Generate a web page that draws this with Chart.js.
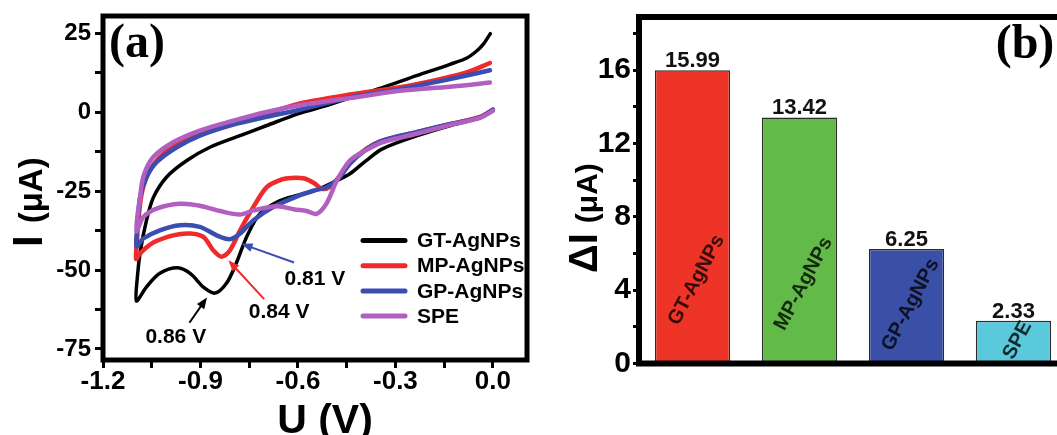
<!DOCTYPE html>
<html>
<head>
<meta charset="utf-8">
<script src="https://cdn.jsdelivr.net/npm/chart.js@4.4.1/dist/chart.umd.min.js"></script>
<style>
  html, body { margin: 0; padding: 0; overflow: hidden; background: #fff; }
  body { width: 1057px; height: 435px; position: relative; }
  canvas { position: absolute; top: 0; }
  #cvChart { left: 0; }
  #barChart { left: 530px; }
</style>
</head>
<body>
<canvas id="cvChart" width="540" height="450"></canvas>
<canvas id="barChart" width="545" height="435"></canvas>
<script>
const seriesNames = ["GT-AgNPs", "MP-AgNPs", "GP-AgNPs", "SPE"];

// each CV loop: sweep from 0 V down to -1.1 V, then back up to 0 V
const gtPotential = [0.0, -0.04, -0.13, -0.235, -0.34, -0.39, -0.44, -0.49, -0.54, -0.6, -0.655, -0.717, -0.758, -0.79, -0.82, -0.855, -0.89, -0.93, -0.97, -1.025, -1.066, -1.097,
  -1.094, -1.085, -1.066, -1.045, -1.004, -0.942, -0.871, -0.778, -0.696, -0.6, -0.5, -0.41, -0.338, -0.235, -0.132, -0.08, -0.05, -0.03, -0.008];
const gtCurrent = [0.5, -1.8, -4.2, -7.5, -11.6, -15.3, -19.5, -22.1, -24.5, -26.3, -28.0, -32.1, -39.5, -47.9, -54.2, -57.3, -55.5, -51.2, -49.3, -51.0, -55.3, -59.8,
  -52.0, -44.0, -34.2, -27.0, -20.5, -15.3, -11.1, -7.4, -4.2, -0.5, 2.5, 5.6, 7.9, 11.6, 15.2, 17.2, 19.4, 21.5, 24.9];

const mpPotential = [0.0, -0.04, -0.13, -0.235, -0.34, -0.39, -0.44, -0.47, -0.5, -0.525, -0.55, -0.58, -0.62, -0.65, -0.696, -0.737, -0.778, -0.809, -0.835, -0.861, -0.891, -0.932, -0.984, -1.045, -1.086, -1.098,
  -1.095, -1.091, -1.081, -1.061, -1.025, -0.963, -0.871, -0.8, -0.7, -0.594, -0.44, -0.286, -0.163, -0.081, -0.009];
const mpCurrent = [0.8, -1.5, -3.7, -6.3, -9.0, -11.6, -16.0, -20.0, -23.5, -24.3, -22.5, -21.0, -20.8, -21.3, -23.7, -30.0, -37.4, -43.7, -45.8, -43.7, -39.5, -38.4, -39.0, -41.3, -44.7, -46.5,
  -40.0, -34.2, -25.8, -19.5, -14.2, -9.5, -5.3, -3.0, -0.5, 2.8, 5.6, 7.9, 10.5, 12.6, 15.6];

const gpPotential = [0.0, -0.04, -0.13, -0.235, -0.34, -0.39, -0.44, -0.475, -0.51, -0.55, -0.594, -0.676, -0.737, -0.778, -0.809, -0.85, -0.902, -0.963, -1.025, -1.076, -1.097,
  -1.094, -1.086, -1.066, -1.035, -0.973, -0.902, -0.799, -0.7, -0.594, -0.44, -0.286, -0.132, -0.009];
const gpCurrent = [0.8, -1.6, -3.7, -6.3, -9.0, -11.8, -16.3, -21.0, -23.7, -24.8, -26.3, -30.0, -34.2, -38.4, -40.2, -39.0, -36.3, -35.8, -37.4, -40.0, -42.5,
  -36.0, -26.9, -20.5, -15.8, -11.1, -7.4, -3.9, -1.5, 0.8, 4.7, 7.3, 10.5, 13.3];

const spePotential = [0.0, -0.04, -0.13, -0.235, -0.34, -0.39, -0.44, -0.48, -0.512, -0.542, -0.573, -0.61, -0.666, -0.737, -0.778, -0.84, -0.902, -0.963, -1.035, -1.076, -1.097,
  -1.093, -1.088, -1.076, -1.045, -0.984, -0.902, -0.799, -0.7, -0.594, -0.44, -0.286, -0.132, -0.009];
const speCurrent = [0.5, -1.8, -4.0, -6.8, -9.5, -12.0, -15.3, -21.6, -28.9, -32.2, -31.3, -30.8, -29.8, -31.1, -32.4, -31.3, -29.6, -29.0, -30.5, -33.2, -37.8,
  -32.0, -28.9, -20.5, -14.2, -9.5, -5.8, -2.7, 0.0, 2.2, 4.5, 6.8, 8.1, 9.4];

const peakLabels = ["0.86 V", "0.84 V", "0.81 V"];
const uTickLabels = ["-1.2", "-0.9", "-0.6", "-0.3", "0.0"];
const iTickLabels = ["25", "0", "-25", "-50", "-75"];

const barCategories = ["GT-AgNPs", "MP-AgNPs", "GP-AgNPs", "SPE"];
const barValues = [15.99, 13.42, 6.25, 2.33];
const dITickLabels = ["0", "4", "8", "12", "16"];

const SANS = '"Liberation Sans", Arial, sans-serif';
const SERIF = '"Liberation Serif", "Times New Roman", serif';
Chart.defaults.font.family = SANS;
Chart.defaults.color = "#000";

const lineColors = ["#000000", "#ee2a2a", "#3a4db0", "#b25fc2"];
const barColors = ["#ee3427", "#62ba48", "#3a4fa6", "#5bc9dc"];

function zip(xs, ys) {
  return xs.map((x, i) => ({ x, y: ys[i] }));
}

function drawArrow(ctx, x0, y0, x1, y1, color) {
  const ang = Math.atan2(y1 - y0, x1 - x0);
  const head = 12;
  ctx.strokeStyle = color;
  ctx.fillStyle = color;
  ctx.lineWidth = 2;
  ctx.beginPath();
  ctx.moveTo(x0, y0);
  ctx.lineTo(x1 - head * 0.7 * Math.cos(ang), y1 - head * 0.7 * Math.sin(ang));
  ctx.stroke();
  ctx.beginPath();
  ctx.moveTo(x1, y1);
  ctx.lineTo(x1 - head * Math.cos(ang - 0.38), y1 - head * Math.sin(ang - 0.38));
  ctx.lineTo(x1 - head * Math.cos(ang + 0.38), y1 - head * Math.sin(ang + 0.38));
  ctx.closePath();
  ctx.fill();
}

// box round the plot area
const framePlugin = {
  id: "frame",
  afterDatasetsDraw(chart, args, opts) {
    const { ctx, chartArea: a } = chart;
    ctx.save();
    ctx.strokeStyle = "#000";
    ctx.lineWidth = opts.width || 5;
    ctx.strokeRect(a.left, a.top, a.right - a.left, a.bottom - a.top);
    ctx.restore();
  }
};

// rotated axis title with a big symbol and a smaller unit
function drawYTitle(ctx, x, y, big, bigSize, small, smallSize, gap) {
  ctx.save();
  ctx.translate(x, y);
  ctx.rotate(-Math.PI / 2);
  ctx.fillStyle = "#000";
  ctx.textAlign = "left";
  ctx.textBaseline = "alphabetic";
  ctx.font = `bold ${bigSize}px ${SANS}`;
  ctx.fillText(big, 0, 0);
  const w = ctx.measureText(big).width;
  ctx.font = `bold ${smallSize}px ${SANS}`;
  ctx.fillText(small, w + gap, 0);
  ctx.restore();
}

// peak arrows, in data units: label centre, arrow tail, arrow tip
const peakArrows = [
  { at: [-0.976, -71.2], from: [-0.934, -66.7], to: [-0.880, -58.7], color: lineColors[0] },
  { at: [-0.658, -63.4], from: [-0.704, -59.2], to: [-0.814, -46.9], color: lineColors[1] },
  { at: [-0.548, -53.0], from: [-0.612, -47.6], to: [-0.774, -41.7], color: lineColors[2] }
];

const cvDecor = {
  id: "cvDecor",
  afterDraw(chart) {
    const { ctx, scales: { x, y } } = chart;
    ctx.save();

    // panel letter
    ctx.fillStyle = "#000";
    ctx.font = `bold 48px ${SERIF}`;
    ctx.textAlign = "left";
    ctx.textBaseline = "alphabetic";
    ctx.fillText("(a)", 109, 57);

    // axis titles
    drawYTitle(ctx, 42, 247, "I", 42, "(\u03bcA)", 33, 12);
    ctx.font = `bold 41px ${SANS}`;
    ctx.textAlign = "center";
    ctx.fillText("U (V)", 325, 433);

    // legend
    ctx.font = `bold 21px ${SANS}`;
    ctx.textAlign = "left";
    ctx.textBaseline = "middle";
    seriesNames.forEach((name, i) => {
      const ly = 240.5 + i * 25.2;
      ctx.strokeStyle = lineColors[i];
      ctx.lineWidth = 5;
      ctx.lineCap = "round";
      ctx.beginPath();
      ctx.moveTo(363, ly);
      ctx.lineTo(405, ly);
      ctx.stroke();
      ctx.fillStyle = "#000";
      ctx.fillText(name, 417, ly + 1);
    });

    // peak annotations
    ctx.lineCap = "butt";
    peakArrows.forEach((p, i) => {
      drawArrow(ctx,
        x.getPixelForValue(p.from[0]), y.getPixelForValue(p.from[1]),
        x.getPixelForValue(p.to[0]), y.getPixelForValue(p.to[1]), p.color);
      ctx.fillStyle = "#000";
      ctx.font = `bold 21px ${SANS}`;
      ctx.textAlign = "center";
      ctx.textBaseline = "middle";
      ctx.fillText(peakLabels[i], x.getPixelForValue(p.at[0]), y.getPixelForValue(p.at[1]));
    });
    ctx.restore();
  }
};

const cvSeries = [
  [gtPotential, gtCurrent],
  [mpPotential, mpCurrent],
  [gpPotential, gpCurrent],
  [spePotential, speCurrent]
];

new Chart(document.getElementById("cvChart"), {
  type: "scatter",
  data: {
    datasets: cvSeries.map(([u, i], k) => ({
      label: seriesNames[k],
      data: zip(u, i),
      showLine: true,
      borderColor: lineColors[k],
      backgroundColor: lineColors[k],
      borderWidth: k === 0 ? 3.5 : 4.5,
      pointRadius: 0,
      tension: 0.3,
      borderCapStyle: "round",
      borderJoinStyle: "round",
      order: 4 - k
    }))
  },
  options: {
    responsive: false,
    animation: false,
    layout: { padding: { left: 0, top: 15, right: 13, bottom: 0 } },
    plugins: { legend: { display: false }, tooltip: { enabled: false }, frame: { width: 5 } },
    scales: {
      x: {
        type: "linear",
        min: -1.2,
        max: 0.105,
        afterFit: s => { s.height = 90; },
        border: { display: false },
        grid: { drawOnChartArea: false, tickLength: 8, tickWidth: 3, tickColor: "#000" },
        ticks: {
          stepSize: 0.15,
          includeBounds: false,
          maxTicksLimit: 30,
          autoSkip: false,
          maxRotation: 0,
          padding: 1,
          color: "#000",
          font: { size: 26, weight: "bold", lineHeight: 1 },
          callback: v => {
            const s = Math.abs(v) < 1e-9 ? "0.0" : v.toFixed(1);
            return uTickLabels.includes(s) && Math.abs(Number(s) - v) < 1e-6 ? s : "";
          }
        }
      },
      y: {
        min: -78.5,
        max: 30.5,
        afterFit: s => { s.width = 103; },
        border: { display: false },
        grid: { drawOnChartArea: false, tickLength: 8, tickWidth: 3, tickColor: "#000" },
        ticks: {
          stepSize: 12.5,
          includeBounds: false,
          maxTicksLimit: 30,
          autoSkip: false,
          padding: 4,
          color: "#000",
          font: { size: 24, weight: "bold", lineHeight: 1 },
          callback: v => {
            const s = String(Math.round(v));
            return iTickLabels.includes(s) && Math.abs(Number(s) - v) < 1e-6 ? s : "";
          }
        }
      }
    }
  },
  plugins: [framePlugin, cvDecor]
});

// text heights (in µA) for the rotated names inside the bars
const nameHeights = [4.56, 4.35, 3.2, 1.27];

const barDecor = {
  id: "barDecor",
  afterDraw(chart) {
    const { ctx, scales: { y } } = chart;
    const meta = chart.getDatasetMeta(0);
    ctx.save();
    ctx.fillStyle = "#000";

    ctx.font = `bold 48px ${SERIF}`;
    ctx.textAlign = "center";
    ctx.textBaseline = "alphabetic";
    ctx.fillText("(b)", 495, 58);

    drawYTitle(ctx, 67, 273, "\u0394I", 40, "(\u03bcA)", 30, 10);

    meta.data.forEach((bar, i) => {
      ctx.fillStyle = "#111";
      ctx.font = `bold 22px ${SANS}`;
      ctx.textAlign = "center";
      ctx.textBaseline = "alphabetic";
      ctx.fillText(barValues[i].toFixed(2), bar.x, bar.y - 3);

      ctx.save();
      ctx.translate(bar.x + 4, y.getPixelForValue(nameHeights[i]));
      ctx.rotate(-62 * Math.PI / 180);
      ctx.fillStyle = "rgba(0,0,0,0.78)";
      ctx.font = `bold 20px ${SANS}`;
      ctx.textBaseline = "middle";
      ctx.fillText(barCategories[i], 0, 0);
      ctx.restore();
    });
    ctx.restore();
  }
};

new Chart(document.getElementById("barChart"), {
  type: "bar",
  data: {
    labels: barCategories,
    datasets: [{
      data: barValues,
      backgroundColor: barColors,
      borderColor: "#2b2b2b",
      borderWidth: 1.5,
      barPercentage: 0.704,
      categoryPercentage: 1
    }]
  },
  options: {
    responsive: false,
    animation: false,
    layout: { padding: { left: 0, top: 13, right: 8, bottom: 71.5 } },
    plugins: { legend: { display: false }, tooltip: { enabled: false }, frame: { width: 6 } },
    scales: {
      x: { display: false },
      y: {
        min: 0,
        max: 18.9,
        afterFit: s => { s.width = 109; },
        border: { display: false },
        grid: { drawOnChartArea: false, tickLength: 6, tickWidth: 3, tickColor: "#000" },
        ticks: {
          stepSize: 2,
          includeBounds: false,
          maxTicksLimit: 30,
          autoSkip: false,
          padding: 2,
          color: "#000",
          font: { size: 30, weight: "bold", lineHeight: 1 },
          callback: v => {
            const s = String(Math.round(v));
            return dITickLabels.includes(s) && Math.abs(Number(s) - v) < 1e-6 ? s : "";
          }
        }
      }
    }
  },
  plugins: [framePlugin, barDecor]
});
</script>
</body>
</html>
